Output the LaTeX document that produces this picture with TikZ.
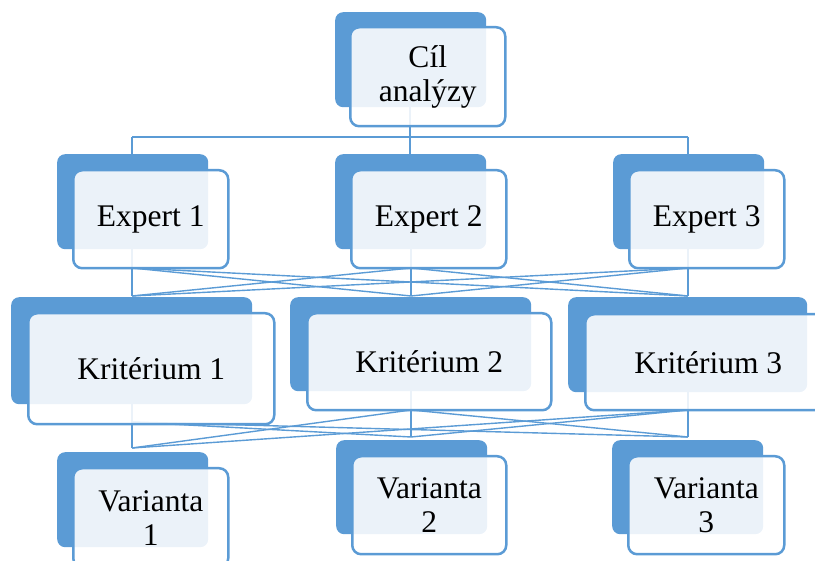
\documentclass[tikz,border=0pt]{standalone}
\usepackage{fontspec}
\setmainfont{Liberation Serif}
\usetikzlibrary{backgrounds}
\definecolor{sa}{RGB}{91,155,213}
\tikzset{
  backbox/.style={fill=sa, rounded corners=8pt, inner sep=0pt, anchor=north west},
  frontbox/.style={draw=sa, line width=2.5pt, fill=white, fill opacity=0.88, text opacity=1,
    rounded corners=9pt, inner sep=0pt, align=center, anchor=north west,
    font=\fontsize{31.5}{34}\selectfont},
  link/.style={draw=sa, line width=1.4pt},
  stem/.style={draw=sa, line width=2.5pt},
}
\begin{document}
\begin{tikzpicture}[x=1pt,y=-1pt]
\useasboundingbox (0,0) rectangle (815,561);

% ---- back boxes
\node[backbox, minimum width=151pt, minimum height=95pt] (tb) at (335,12) {};
\node[backbox, minimum width=151pt, minimum height=95pt] (e1b) at (57,154) {};
\node[backbox, minimum width=151pt, minimum height=95pt] (e2b) at (335,154) {};
\node[backbox, minimum width=151pt, minimum height=95pt] (e3b) at (613,154) {};
\node[backbox, minimum width=241pt, minimum height=107pt] (k1b) at (11,297) {};
\node[backbox, minimum width=241pt, minimum height=94pt] (k2b) at (290,297) {};
\node[backbox, minimum width=239pt, minimum height=95pt] (k3b) at (568,297) {};
\node[backbox, minimum width=151pt, minimum height=95pt] (v1b) at (57,452) {};
\node[backbox, minimum width=151pt, minimum height=94pt] (v2b) at (336,440) {};
\node[backbox, minimum width=151pt, minimum height=94pt] (v3b) at (612,440) {};

% ---- front boxes
\node[frontbox, minimum width=155pt, minimum height=99pt] (t) at (349,26) {Cíl\\analýzy};
\node[frontbox, minimum width=155pt, minimum height=98pt] (e1) at (72,169) {Expert 1};
\node[frontbox, minimum width=155pt, minimum height=98pt] (e2) at (350,169) {Expert 2};
\node[frontbox, minimum width=155pt, minimum height=98pt] (e3) at (628,169) {Expert 3};
\node[frontbox, minimum width=246pt, minimum height=111pt] (k1) at (27,312) {Kritérium 1};
\node[frontbox, minimum width=244pt, minimum height=97pt] (k2) at (306,312) {Kritérium 2};
\node[frontbox, minimum width=246pt, minimum height=96pt] (k3) at (584,313) {Kritérium 3};
\node[frontbox, minimum width=155pt, minimum height=99pt] (v1) at (72,467) {Varianta\\1};
\node[frontbox, minimum width=154pt, minimum height=98pt] (v2) at (351,455) {Varianta\\2};
\node[frontbox, minimum width=156pt, minimum height=98pt] (v3) at (627,455) {Varianta\\3};

% ---- connection points
\coordinate (hub) at (410,137);
\coordinate (h1) at (132,137);
\coordinate (h3) at (688,137);
\coordinate (e1o) at (132,268);
\coordinate (e2o) at (411,268);
\coordinate (e3o) at (688,268);
\coordinate (k1i) at (132,296);
\coordinate (k2i) at (411,296);
\coordinate (k3i) at (688,296);
\coordinate (k1o) at (132,422);
\coordinate (k2o) at (411,410);
\coordinate (k3o) at (688,410);
\coordinate (v1i) at (132,448);
\coordinate (v2i) at (411,437);
\coordinate (v3i) at (688,437);

\begin{scope}[on background layer]
  \draw[stem] (hub |- tb.south) -- (hub);
  \draw[stem] (h1) -- (h3);
  \draw[stem] (h1) -- (h1 |- e1b.north);
  \draw[stem] (hub) -- (hub |- e2b.north);
  \draw[stem] (h3) -- (h3 |- e3b.north);
  \foreach \i in {1,2,3}{
    \draw[stem] (e\i o |- e\i b.south) -- (k\i i);
    \draw[stem] (k\i o |- k\i b.south) -- (v\i i);
    \foreach \j in {1,2,3}{
      \draw[link] (e\i o) -- (k\j i);
      \draw[link] (k\i o) -- (v\j i);
    }
  }
\end{scope}
\end{tikzpicture}
\end{document}
